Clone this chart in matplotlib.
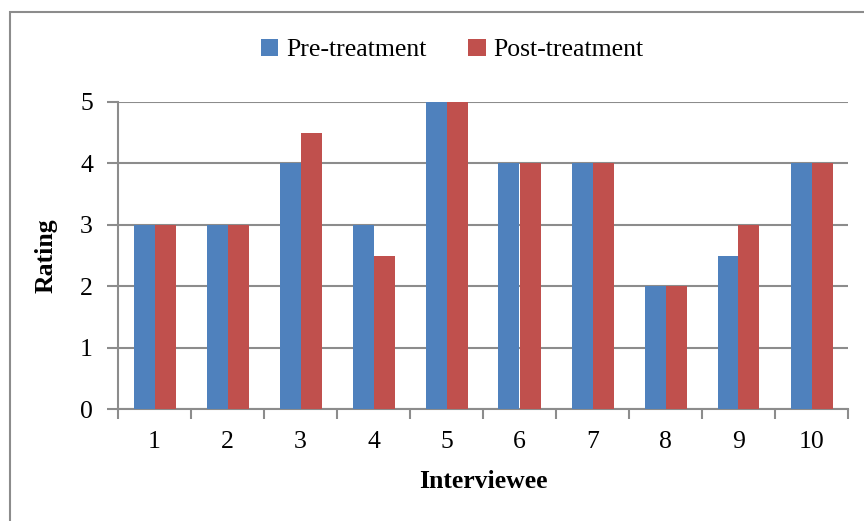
import matplotlib.pyplot as plt
import numpy as np
from matplotlib.patches import Rectangle

plt.rcParams['font.family'] = ['Liberation Serif', 'DejaVu Serif']

interviewees = ['1', '2', '3', '4', '5', '6', '7', '8', '9', '10']
pre_treatment = [3, 3, 4, 3, 5, 4, 4, 2, 2.5, 4]
post_treatment = [3, 3, 4.5, 2.5, 5, 4, 4, 2, 3, 4]

blue = '#4F81BD'
red = '#C0504D'
grid_grey = '#8C8C8C'
fs = 18.5

fig = plt.figure(figsize=(8.64, 5.21), dpi=100)
ax = fig.add_axes([118 / 864, 1 - 409 / 521, 730 / 864, 307 / 521])

# outer chart border
fig.patches.append(Rectangle((10 / 864, -0.1), 1.2, (521 - 12) / 521 + 0.1,
                             transform=fig.transFigure, fill=False,
                             edgecolor=grid_grey, linewidth=1.5))

x = np.arange(len(interviewees))
w = 21 / 73
ax.bar(x - w / 2, pre_treatment, w, color=blue, label='Pre-treatment', zorder=3)
ax.bar(x + w / 2, post_treatment, w, color=red, label='Post-treatment', zorder=3)

ax.set_xlim(-0.5, len(interviewees) - 0.5)
ax.set_ylim(0, 5)
ax.set_yticks(range(6))
ax.set_xticks(x)
ax.set_xticklabels(interviewees)
ax.set_xticks(np.arange(-0.5, len(interviewees)), minor=True)
ax.tick_params(axis='x', which='major', length=0, pad=16, labelsize=fs)
ax.tick_params(axis='x', which='minor', length=7, width=1.5, color=grid_grey)
ax.tick_params(axis='y', length=8, width=1.5, color=grid_grey, pad=10, labelsize=fs)

ax.yaxis.grid(True, color=grid_grey, linewidth=1.5, zorder=0)
for side in ['top', 'right']:
    ax.spines[side].set_visible(False)
ax.spines['left'].set_color(grid_grey)
ax.spines['bottom'].set_color(grid_grey)
ax.spines['left'].set_linewidth(1.5)
ax.spines['bottom'].set_linewidth(1.5)

ax.set_xlabel('Interviewee', fontsize=fs, fontweight='bold', labelpad=12)
ax.set_ylabel('Rating', fontsize=fs, fontweight='bold', labelpad=16)

fig.legend(loc='center', bbox_to_anchor=(452 / 864, 1 - 50 / 521), ncol=2,
           frameon=False, fontsize=fs, handlelength=0.7, handleheight=0.7,
           handletextpad=0.3, columnspacing=1.6)

fig.savefig('out.png', dpi=100)
